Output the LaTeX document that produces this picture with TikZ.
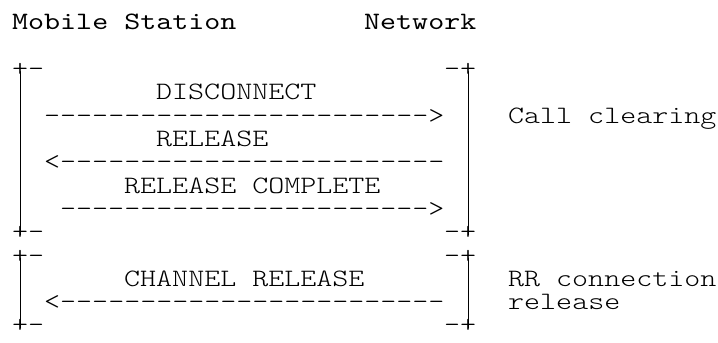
\documentclass[tikz,border=0pt]{standalone}
\usepackage{fontspec}
\newfontfamily\asciifont{lmmonolt10-regular.otf}[FakeStretch=1.22,Ligatures=TeXOff]
\newfontfamily\headfont{lmmono10-regular.otf}[FakeStretch=1.22,Ligatures=TeXOff]
\begin{document}
\begin{tikzpicture}[x=16bp, y=-23.3bp, line cap=round,
    txt/.style={anchor=base west, inner sep=0pt, font=\fontsize{25bp}{25bp}\asciifont},
    head/.style={anchor=base west, inner sep=0pt, font=\fontsize{25bp}{25bp}\headfont},
    bar/.style={line width=.8bp}]
  \useasboundingbox (-0.75,-1.2876) rectangle (44.125,13.4335);
  % heads
  \node[head] (ms) at (0,0) {Mobile Station};
  \node[head] (nw) at (22,0) {Network};
  % call clearing
  \node[txt] (ccTL) at (0,2) {+-};
  \node[txt] (ccTR) at (27,2) {-+};
  \node[txt] (disc) at (9,3) {DISCONNECT};
  \node[txt] (discA) at (2,4) {------------------------>};
  \node[txt] (ccLab) at (31,4) {Call clearing};
  \node[txt] (rel) at (9,5) {RELEASE};
  \node[txt] (relA) at (2,6) {<------------------------};
  \node[txt] (relc) at (7,7) {RELEASE COMPLETE};
  \node[txt] (relcA) at (3,8) {----------------------->};
  \node[txt] (ccBL) at (0,9) {+-};
  \node[txt] (ccBR) at (27,9) {-+};
  % rr connection release
  \node[txt] (rrTL) at (0,10) {+-};
  \node[txt] (rrTR) at (27,10) {-+};
  \node[txt] (chrel) at (7,11) {CHANNEL RELEASE};
  \node[txt] (rrLab) at (31,11) {RR connection};
  \node[txt] (chrelA) at (2,12) {<------------------------};
  \node[txt] (rrLab2) at (31,12) {release};
  \node[txt] (rrBL) at (0,13) {+-};
  \node[txt] (rrBR) at (27,13) {-+};
  % bars
  \draw[bar] ([xshift=8bp,yshift=5bp]ccTL.base west) -- ([xshift=8bp,yshift=5bp]ccBL.base west);
  \draw[bar] ([xshift=-8bp,yshift=5bp]ccTR.base east) -- ([xshift=-8bp,yshift=5bp]ccBR.base east);
  \draw[bar] ([xshift=8bp,yshift=5bp]rrTL.base west) -- ([xshift=8bp,yshift=5bp]rrBL.base west);
  \draw[bar] ([xshift=-8bp,yshift=5bp]rrTR.base east) -- ([xshift=-8bp,yshift=5bp]rrBR.base east);
\end{tikzpicture}
\end{document}
